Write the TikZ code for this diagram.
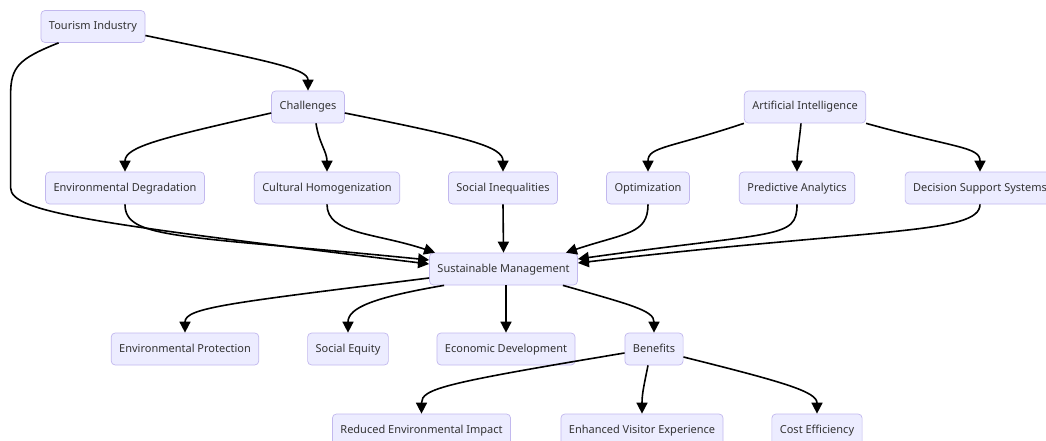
\documentclass[tikz,border=0pt]{standalone}
\usepackage{fontspec}
\setmainfont{Noto Sans}
\usepackage{tikz}
\usetikzlibrary{arrows.meta}

\definecolor{boxfill}{HTML}{ECECFF}
\definecolor{boxline}{HTML}{C2B8EE}
\definecolor{boxtext}{HTML}{333333}

\begin{document}
\begin{tikzpicture}[x=1pt, y=1pt, >={Triangle[length=11pt, width=11pt]},
    topic/.style={draw=boxline, fill=boxfill, line width=0.7pt, rounded corners=4pt,
        text=boxtext, font=\fontsize{11}{13}\selectfont, inner xsep=8pt, inner ysep=0pt,
        text height=8.5pt, text depth=2.5pt, minimum height=32pt},
    link/.style={->, line width=1.6pt, black}]
    \useasboundingbox (0,0) rectangle (1046,-441);

    % top level
    \node[topic] (tour) at (93,-26.5) {Tourism Industry};
    \node[topic] (chal) at (308,-107) {Challenges};
    \node[topic] (ai) at (805,-107) {Artificial Intelligence};

    % challenges and AI tools
    \node[topic] (envdeg) at (125,-188) {Environmental Degradation};
    \node[topic] (cult) at (327,-188) {Cultural Homogenization};
    \node[topic] (socineq) at (503,-188) {Social Inequalities};
    \node[topic] (optim) at (648,-188) {Optimization};
    \node[topic] (pred) at (797,-188) {Predictive Analytics};
    \node[topic] (dss) at (980,-188) {Decision Support Systems};

    \node[topic] (sust) at (503.5,-269) {Sustainable Management};

    % goals
    \node[topic] (envprot) at (185,-349) {Environmental Protection};
    \node[topic] (soceq) at (348,-349) {Social Equity};
    \node[topic] (econ) at (506,-349) {Economic Development};
    \node[topic] (ben) at (654,-349) {Benefits};

    \node[topic] (reduced) at (421.5,-430) {Reduced Environmental Impact};
    \node[topic] (enhanced) at (642,-430) {Enhanced Visitor Experience};
    \node[topic] (cost) at (817,-430) {Cost Efficiency};

    \draw[link] ([yshift=-9]tour.east) .. controls +(125,-26) and +(0,22) .. (chal.north);
    \draw[link] ([xshift=18]tour.south west) .. controls +(-40,-16) and +(0,28) .. ++(-48,-52)
        -- ++(0,-93) .. controls +(0,-25) and +(-330,40) .. ([yshift=5]sust.west);

    \draw[link] ([yshift=-6]chal.west) .. controls +(-110,-25) and +(0,25) .. (envdeg.north);
    \draw[link] ([xshift=8]chal.south) .. controls +(3,-20) and +(0,20) .. (cult.north);
    \draw[link] ([yshift=-6]chal.east) .. controls +(125,-25) and +(0,25) .. (socineq.north);

    \draw[link] (ai.south west) .. controls +(-75,-25) and +(0,25) .. (optim.north);
    \draw[link] ([xshift=-4]ai.south) .. controls +(-2,-20) and +(0,18) .. (pred.north);
    \draw[link] (ai.south east) .. controls +(90,-25) and +(0,25) .. (dss.north);

    \draw[link] (envdeg.south) .. controls +(0,-35) and +(-250,25) .. ([yshift=9]sust.west);
    \draw[link] (cult.south) .. controls +(0,-30) and +(-60,20) .. ([xshift=6]sust.north west);
    \draw[link] (socineq.south) -- (sust.north);
    \draw[link] (optim.south) .. controls +(0,-30) and +(60,20) .. ([xshift=-12]sust.north east);
    \draw[link] (pred.south) .. controls +(0,-35) and +(200,28) .. ([yshift=10]sust.east);
    \draw[link] (dss.south) .. controls +(0,-30) and +(300,35) .. ([yshift=6]sust.east);

    \draw[link] ([yshift=-9]sust.west) .. controls +(-200,-25) and +(0,25) .. (envprot.north);
    \draw[link] ([xshift=15]sust.south west) .. controls +(-70,-12) and +(0,25) .. (soceq.north);
    \draw[link] ([xshift=2.5]sust.south) -- (econ.north);
    \draw[link] ([xshift=-15]sust.south east) .. controls +(70,-20) and +(0,22) .. (ben.north);

    \draw[link] ([yshift=-4]ben.west) .. controls +(-180,-30) and +(0,25) .. (reduced.north);
    \draw[link] ([xshift=-6]ben.south) .. controls +(-4,-20) and +(0,20) .. (enhanced.north);
    \draw[link] ([yshift=-8]ben.east) .. controls +(100,-25) and +(0,22) .. (cost.north);
\end{tikzpicture}
\end{document}
